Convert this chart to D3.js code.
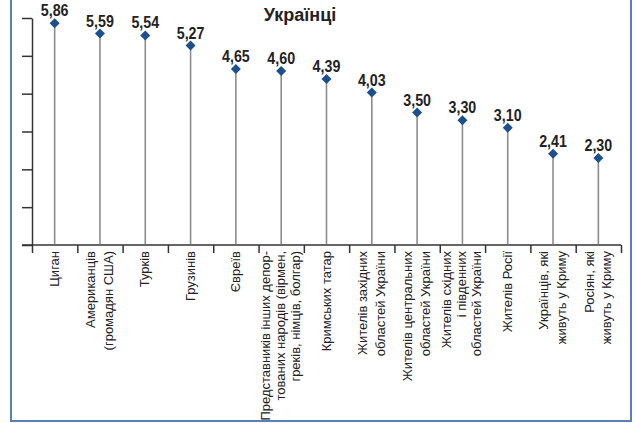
<!DOCTYPE html>
<html>
<head>
  <meta charset="utf-8" />
  <script src="https://cdn.jsdelivr.net/npm/d3@7"></script>
  <style>
    body { margin: 0; background: #fff; }
    .axis path, .axis line { stroke: #333; stroke-width: 1.5px; }
    .cat text { font-family: "Liberation Sans", Arial, sans-serif; font-size: 13px; fill: #222; }
    .val { font-family: "Liberation Sans", Arial, sans-serif; font-weight: bold; font-size: 17px; fill: #222; }
  </style>
</head>
<body>
  <svg width="636" height="423"></svg>
  <script>
  var title = "Українці"
  var categories = [
    ["Циган"],
    ["Американців", "(громадян США)"],
    ["Турків"],
    ["Грузинів"],
    ["Євреїв"],
    ["Представників інших депор-", "тованих народів (вірмен,", "греків, німців, болгар)"],
    ["Кримських татар"],
    ["Жителів західних", "областей України"],
    ["Жителів центральних", "областей України"],
    ["Жителів східних", "і південних", "областей України"],
    ["Жителів Росії"],
    ["Українців, які", "живуть у Криму"],
    ["Росіян, які", "живуть у Криму"]
  ]
  var values = [5.86, 5.59, 5.54, 5.27, 4.65, 4.60, 4.39, 4.03, 3.50, 3.30, 3.10, 2.41, 2.30]
  var yTicks = [0, 1, 2, 3, 4, 5, 6]

  var svg = d3.select('svg')
  var left = 32, right = 621, y0 = 245, yTop = 18

  // frame
  svg.append('rect')
     .attr('x', 11).attr('y', -10)
     .attr('width', 620).attr('height', 431)
     .attr('fill', 'none')
     .attr('stroke', '#5b80b6')
     .attr('stroke-width', 2)

  let x = d3.scaleBand().domain(d3.range(values.length)).range([left, right])
  let y = d3.scaleLinear().domain([0, 6]).range([y0, yTop])
  let cx = i => x(i) + x.bandwidth() / 2

  // y axis
  svg.append('g')
     .attr('class', 'axis')
     .attr('transform', 'translate(' + left + ',0)')
     .call(d3.axisLeft(y).tickValues(yTicks).tickSize(10).tickSizeOuter(0).tickFormat(''))

  // x axis: boundary ticks between categories
  let edge = d3.scaleLinear().domain([0, values.length]).range([left, right])
  let xa = svg.append('g')
     .attr('class', 'axis')
     .attr('transform', 'translate(0,' + y0 + ')')
     .call(d3.axisBottom(edge).tickValues(d3.range(values.length + 1)).tickSize(8).tickFormat(''))
  xa.select('.domain').remove()
  xa.append('line')
    .attr('x1', left - 10).attr('x2', right)
    .attr('stroke', '#333').attr('stroke-width', 1.5)

  // stems
  svg.append('g').selectAll('line')
     .data(values).enter().append('line')
     .attr('x1', (d, i) => cx(i))
     .attr('x2', (d, i) => cx(i))
     .attr('y1', d => y(d))
     .attr('y2', y(0) - 0.75)
     .attr('stroke', '#8c8c8c')
     .attr('stroke-width', 1.6)

  // diamonds
  svg.append('g').selectAll('path')
     .data(values).enter().append('path')
     .attr('d', d3.symbol().type(d3.symbolSquare).size(50))
     .attr('transform', (d, i) => 'translate(' + cx(i) + ',' + y(d) + ') rotate(45)')
     .attr('fill', '#1c4f8e')

  // value labels (squeezed a bit to look condensed)
  svg.append('g').selectAll('text')
     .data(values).enter().append('text')
     .attr('class', 'val')
     .attr('transform', (d, i) => 'translate(' + cx(i) + ',' + (y(d) - 7) + ') scale(0.84,1)')
     .attr('text-anchor', 'middle')
     .text(d => d.toFixed(2).replace('.', ','))

  // category labels, rotated
  let cat = svg.append('g').attr('class', 'cat')
     .selectAll('g')
     .data(categories).enter().append('g')
     .attr('transform', (d, i) => 'translate(' + cx(i) + ',251) rotate(-90)')
  cat.each(function(lines) {
    let lh = lines.length === 3 ? 15 : 17.5
    d3.select(this).selectAll('text')
      .data(lines).enter().append('text')
      .attr('x', 0)
      .attr('y', (t, j) => (j - (lines.length - 1) / 2) * lh + 4)
      .attr('text-anchor', 'end')
      .text(t => t)
  })

  // title
  svg.append('text')
     .attr('x', 300).attr('y', 21)
     .attr('text-anchor', 'middle')
     .style('font-family', '"Liberation Sans", Arial, sans-serif')
     .style('font-weight', 'bold')
     .style('font-size', '18px')
     .style('fill', '#222')
     .text(title)
  </script>
</body>
</html>
